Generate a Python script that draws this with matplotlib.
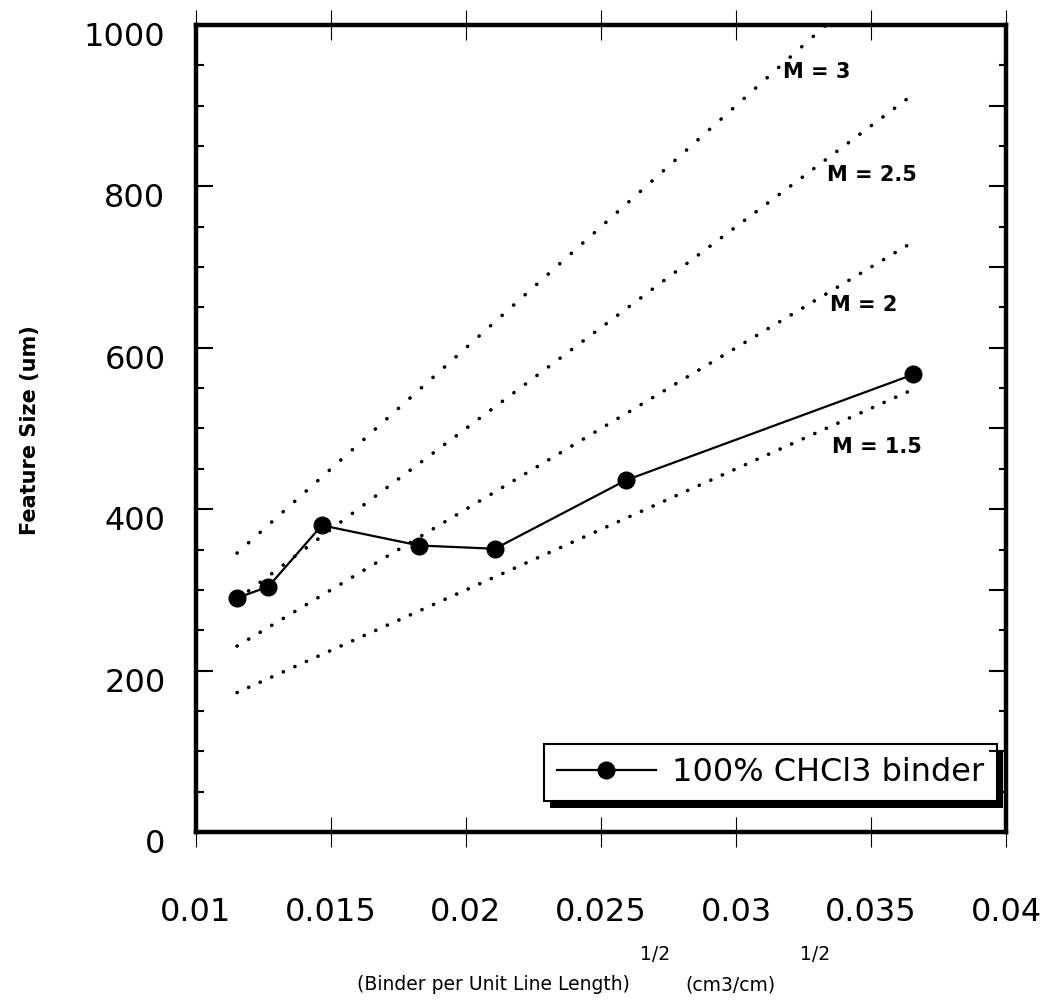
import numpy as np
import matplotlib
matplotlib.use("Agg")
import matplotlib.pyplot as plt
from matplotlib.ticker import MultipleLocator, FixedLocator
from matplotlib.patches import Rectangle
from matplotlib.transforms import ScaledTranslation, IdentityTransform

# measured series: sqrt(binder per unit line length) vs feature size
binder_sqrt = [0.01152, 0.01268, 0.01466, 0.01827, 0.02107, 0.02593, 0.03657]
feature_um = [290, 304, 380, 355, 351, 436, 567]
series_label = "100% CHCl3 binder"

# model lines: feature size = M * 1e4 * x
m_values = [3, 2.5, 2, 1.5]
m_labels = ["M = 3", "M = 2.5", "M = 2", "M = 1.5"]
m_label_pos = [(0.03174, 942), (0.03337, 814), (0.03348, 653), (0.03356, 477)]

x_ticks = [0.01, 0.015, 0.02, 0.025, 0.03, 0.035, 0.04]
x_tick_labels = ["0.01", "0.015", "0.02", "0.025", "0.03", "0.035", "0.04"]
y_ticks = [0, 200, 400, 600, 800, 1000]

plt.rcParams["font.family"] = ["DejaVu Sans"]

fig = plt.figure(figsize=(10.53, 10.08), dpi=100)
ax = fig.add_axes([196 / 1053, 176 / 1008, 810 / 1053, 807 / 1008])
ax.set_xlim(0.01, 0.04)
ax.set_ylim(0, 1000)

# dotted model lines, dots evenly spaced along x
dot_lw = 2.6
x_line = np.array([binder_sqrt[0], binder_sqrt[-1]])
for m in m_values:
    slope_px = m * 0.2989
    period = 8.2 * np.hypot(1.0, slope_px) / dot_lw
    ax.plot(x_line, m * 1e4 * x_line, color="black", lw=dot_lw,
            linestyle=(0, (0.05, period)), dash_capstyle="round", zorder=2)

for lab, (tx, ty) in zip(m_labels, m_label_pos):
    ax.text(tx, ty, lab, fontsize=15, fontweight="bold", ha="left", va="center")

ax.plot(binder_sqrt, feature_um, color="black", lw=1.6, marker="o",
        markersize=12, label=series_label, zorder=3)

for s in ax.spines.values():
    s.set_linewidth(3.2)

ax.xaxis.set_major_locator(FixedLocator(x_ticks))
ax.set_xticklabels(x_tick_labels)
ax.tick_params(axis="x", which="major", direction="inout", length=21.6, width=0.8,
               top=True, bottom=True, labelsize=23, pad=36)
ax.yaxis.set_major_locator(FixedLocator(y_ticks))
ax.yaxis.set_minor_locator(MultipleLocator(50))
ax.tick_params(axis="y", which="major", direction="in", length=12, width=1.5,
               left=True, right=False, labelsize=23, pad=22)
ax.tick_params(axis="y", which="minor", direction="in", length=6, width=1.5,
               left=True, right=False)

# right-hand ticks: every 100 long, every 50 short
axr = ax.twinx()
axr.set_ylim(0, 1000)
axr.yaxis.set_major_locator(MultipleLocator(100))
axr.yaxis.set_minor_locator(MultipleLocator(50))
axr.tick_params(axis="y", which="major", direction="in", length=12, width=1.5,
                labelright=False)
axr.tick_params(axis="y", which="minor", direction="in", length=5, width=1.5)
for s in axr.spines.values():
    s.set_visible(False)

off = ScaledTranslation(0, -6.5 / 72, fig.dpi_scale_trans)
for lbl in ax.get_yticklabels():
    lbl.set_transform(lbl.get_transform() + off)

leg = ax.legend(loc="lower right", bbox_to_anchor=((997 - 196) / 810, (832 - 801) / 807),
                borderaxespad=0, fontsize=23, handlelength=3.1, handletextpad=0.5,
                borderpad=0.4, fancybox=False, framealpha=1, edgecolor="black")
leg.get_frame().set_linewidth(1.5)
leg.set_zorder(5)

fig.text(30 / 1053, 1 - 430 / 1008, "Feature Size (um)", rotation=90,
         fontsize=15, fontweight="bold", ha="center", va="center")
fig.text(357 / 1053, 1 - 985 / 1008, "(Binder per Unit Line Length)", fontsize=13.5,
         ha="left", va="center")
fig.text(640 / 1053, 1 - 955 / 1008, "1/2", fontsize=13.5, ha="left", va="center")
fig.text(685 / 1053, 1 - 985 / 1008, "(cm3/cm)", fontsize=13.5, ha="left", va="center")
fig.text(800 / 1053, 1 - 955 / 1008, "1/2", fontsize=13.5, ha="left", va="center")

# solid drop shadow under the legend box
fig.canvas.draw()
bb = leg.get_frame().get_window_extent()
shadow = Rectangle((bb.x0 + 6, bb.y0 - 7), bb.width, bb.height, transform=IdentityTransform(),
                   facecolor="black", edgecolor="none", zorder=4.5, clip_on=False)
ax.add_artist(shadow)

fig.savefig("out.png", dpi=100)
